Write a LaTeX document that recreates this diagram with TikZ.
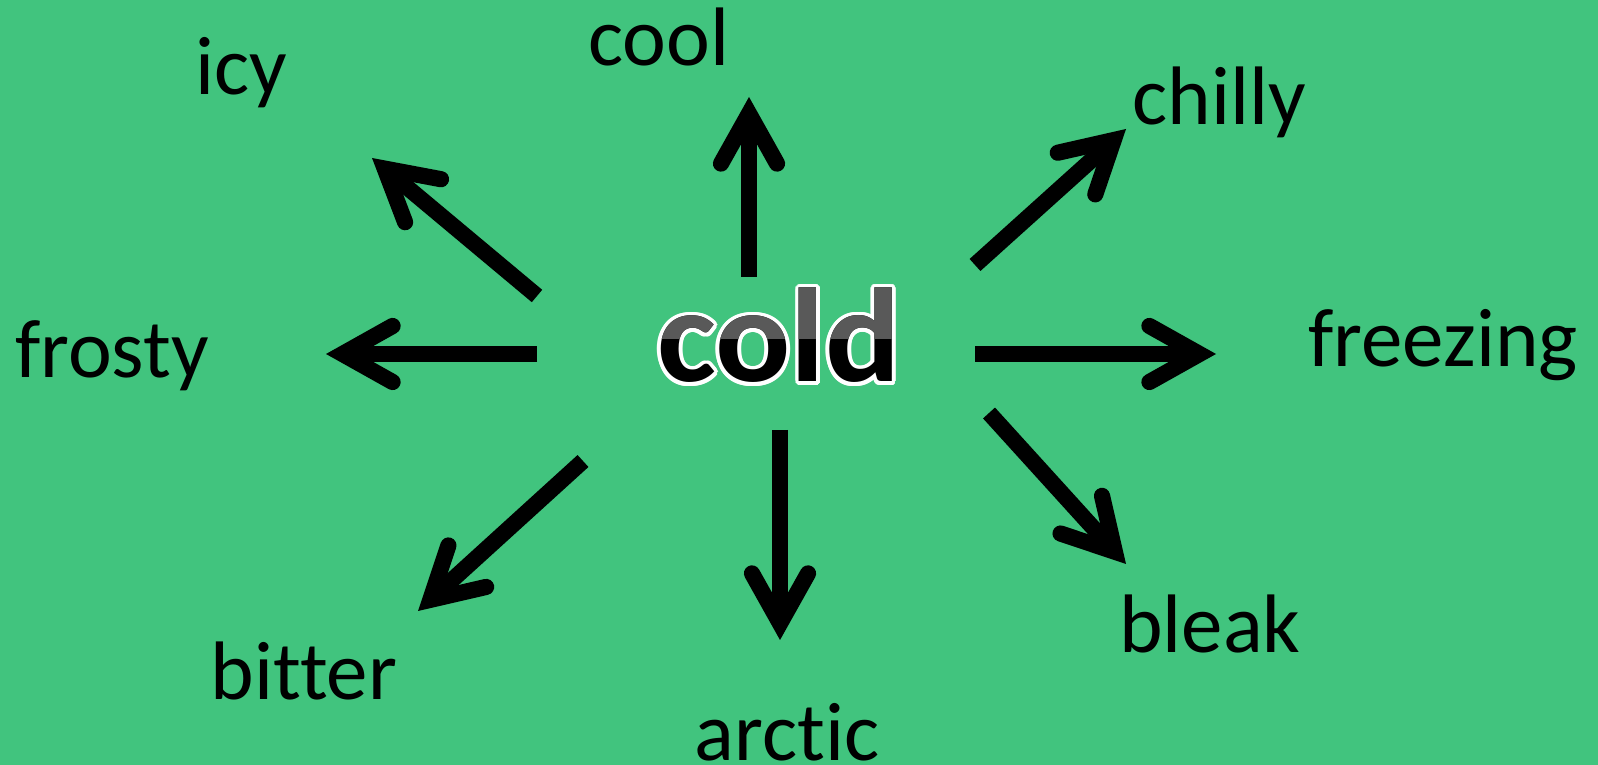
\documentclass[tikz,border=0pt]{standalone}
\usepackage{fontspec}
\setmainfont{Carlito}[Ligatures=NoCommon]
\usepackage{tikz}
\usetikzlibrary{arrows.meta,calc}
\definecolor{meadow}{HTML}{41C47E}
\definecolor{gloss}{HTML}{595959}
\tikzset{wordlabel/.style={font=\fontsize{23.6}{28}\selectfont,inner sep=0pt,anchor=base},coldword/.style={font=\bfseries\fontsize{38}{46}\selectfont,inner sep=0pt,anchor=base,transform shape,xscale=1.05},wordarrow/.style={draw=black,line width=4.6pt,-{Straight Barb[length=.5cm,width=.56cm,line cap=round,line join=miter]}}}

\begin{document}
\begin{tikzpicture}[x=.01cm,y=-.01cm]
\useasboundingbox (0,0) rectangle (1598,765);
\fill[meadow] (0,0) rectangle (1598,765);
% centre word with white rim and glossy top
\coordinate (mid) at (779,382);
\foreach \a [count=\i] in {0,20,...,340} \node[coldword,white] (halo\i) at ($(mid)+(\a:3.6)$) {cold};
\node[coldword] (cold) at (mid) {cold};
\begin{scope}
\clip (600,250) rectangle (950,339);
\node[coldword,gloss] (coldgloss) at (mid) {cold};
\end{scope}
% words round it
\node[wordlabel] (icy) at (241,95) {icy};
\node[wordlabel] (cool) at (659,66) {cool};
\node[wordlabel] (chilly) at (1219,125) {chilly};
\node[wordlabel] (frosty) at (112,378) {frosty};
\node[wordlabel] (freezing) at (1443,367) {freezing};
\node[wordlabel] (bitter) at (304,700) {bitter};
\node[wordlabel] (arctic) at (787,761) {arctic};
\node[wordlabel] (bleak) at (1210,653) {bleak};
% arrow ends
\coordinate (icyS) at (537,296);\coordinate (icyT) at (372,158);
\coordinate (coolS) at (749,277);\coordinate (coolT) at (749,97);
\coordinate (chillyS) at (975,265);\coordinate (chillyT) at (1126,129);
\coordinate (frostyS) at (537,354);\coordinate (frostyT) at (326,354);
\coordinate (freezingS) at (975,354);\coordinate (freezingT) at (1216,354);
\coordinate (bitterS) at (583,461);\coordinate (bitterT) at (418,611);
\coordinate (arcticS) at (780,430);\coordinate (arcticT) at (780,640);
\coordinate (bleakS) at (989,413);\coordinate (bleakT) at (1126,564);
\draw[wordarrow] (icyS)--(icyT);
\draw[wordarrow] (coolS)--(coolT);
\draw[wordarrow] (chillyS)--(chillyT);
\draw[wordarrow] (frostyS)--(frostyT);
\draw[wordarrow] (freezingS)--(freezingT);
\draw[wordarrow] (bitterS)--(bitterT);
\draw[wordarrow] (arcticS)--(arcticT);
\draw[wordarrow] (bleakS)--(bleakT);
\end{tikzpicture}
\end{document}
